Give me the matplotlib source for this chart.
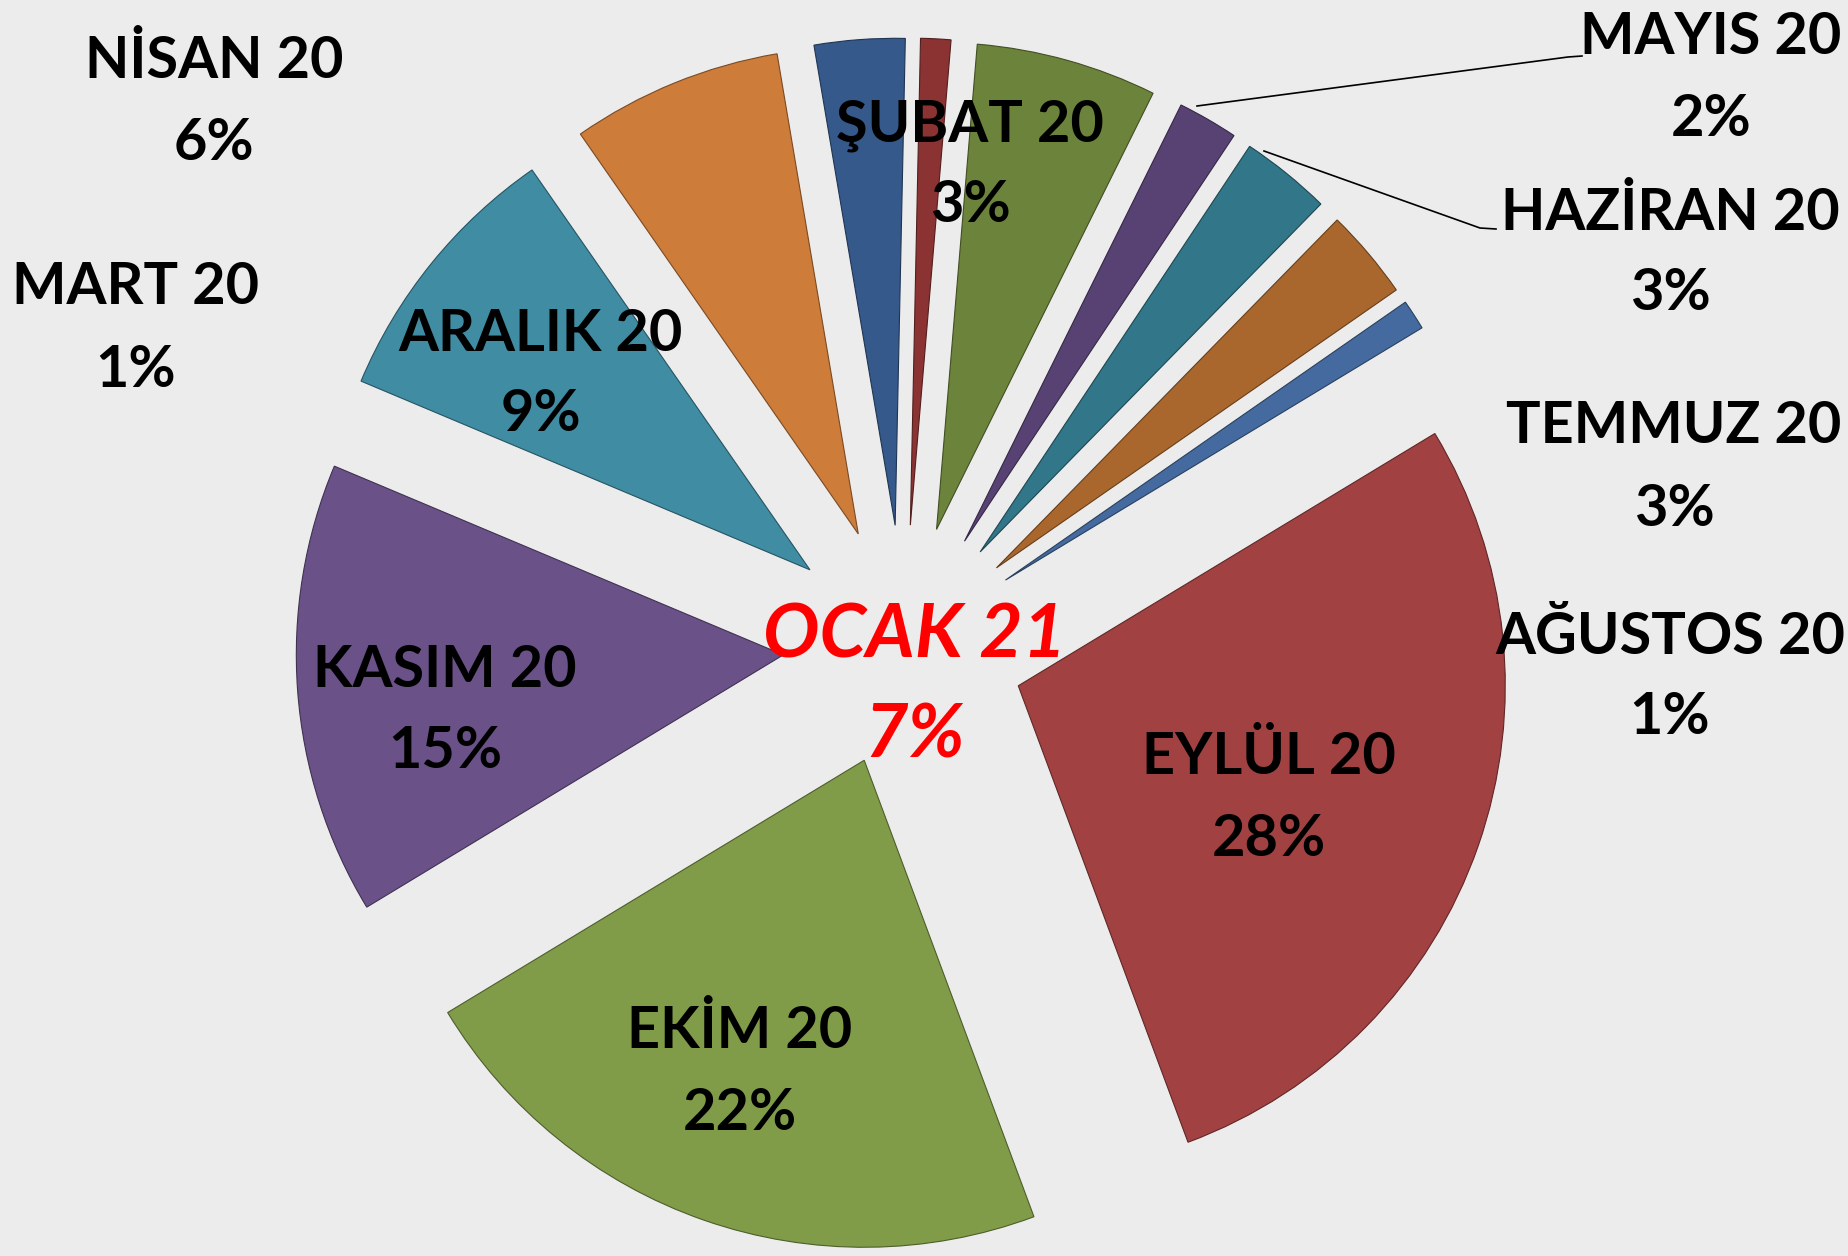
import matplotlib.pyplot as plt

# --- veri ---
months = ['ŞUBAT 20', 'MART 20', 'NİSAN 20', 'MAYIS 20', 'HAZİRAN 20', 'TEMMUZ 20',
          'AĞUSTOS 20', 'EYLÜL 20', 'EKİM 20', 'KASIM 20', 'ARALIK 20', 'OCAK 21']
shares = [3, 1, 6, 2, 3, 3, 1, 28, 22, 15, 9, 7]

colors = ['#35598A', '#8A3332', '#6C833B', '#584273', '#317689', '#AA672D',
          '#456A9F', '#A14141', '#809C48', '#6A5288', '#3F8CA3', '#CD7C3A']

# --- yerlesim (piksel, y asagi) ---
W, H = 1849, 1256
CX, CY = 904, 646
RADIUS = 487
EXPLODE = 121
START = 99.6
TEXT_DY = 5  # metinleri biraz asagi kaydir

# etiket merkezleri: (x, 1. satir y, 2. satir y)
label_pos = [(970, 120, 200), (136, 283, 366), (214, 57, 139), (1711, 33, 114),
             (1670, 209, 289), (1674, 422, 505), (1670, 633, 713), (1269, 752, 835),
             (740, 1026, 1108), (445, 666, 746), (541, 330, 410), (915, 631, 731)]

fig = plt.figure(figsize=(W / 100, H / 100), dpi=100)
fig.patch.set_facecolor('#ececec')
ax = fig.add_axes([0, 0, 1, 1])
ax.set_facecolor('#ececec')

wedges, _ = ax.pie(shares, colors=colors, startangle=START, counterclock=False,
                   radius=RADIUS, center=(CX, H - CY),
                   explode=[EXPLODE] * len(shares))
for w in wedges:
    fc = w.get_facecolor()
    w.set_edgecolor((fc[0] * 0.6, fc[1] * 0.6, fc[2] * 0.6, 1))
    w.set_linewidth(0.8)

ax.set_xlim(0, W)
ax.set_ylim(0, H)
ax.set_aspect('equal')
ax.axis('off')

# etiketler
for name, val, (x, y1, y2) in zip(months, shares, label_pos):
    if name == 'OCAK 21':
        kw = dict(fontsize=54, color='#FF0000', fontweight='bold', style='italic')
    else:
        kw = dict(fontsize=41.5, color='black', fontweight='bold')
    ax.text(x, H - y1 - TEXT_DY, name, ha='center', va='center',
            family=['Lato', 'DejaVu Sans'], **kw)
    ax.text(x, H - y2 - TEXT_DY, f'{val}%', ha='center', va='center',
            family=['Lato', 'DejaVu Sans'], **kw)

# kilavuz cizgileri
ax.plot([1197, 1568, 1582], [H - 106, H - 57, H - 56], color='black', lw=1.2)
ax.plot([1264, 1480, 1496], [H - 151, H - 228, H - 229], color='black', lw=1.2)

fig.savefig('out.png', dpi=100, facecolor=fig.get_facecolor())
